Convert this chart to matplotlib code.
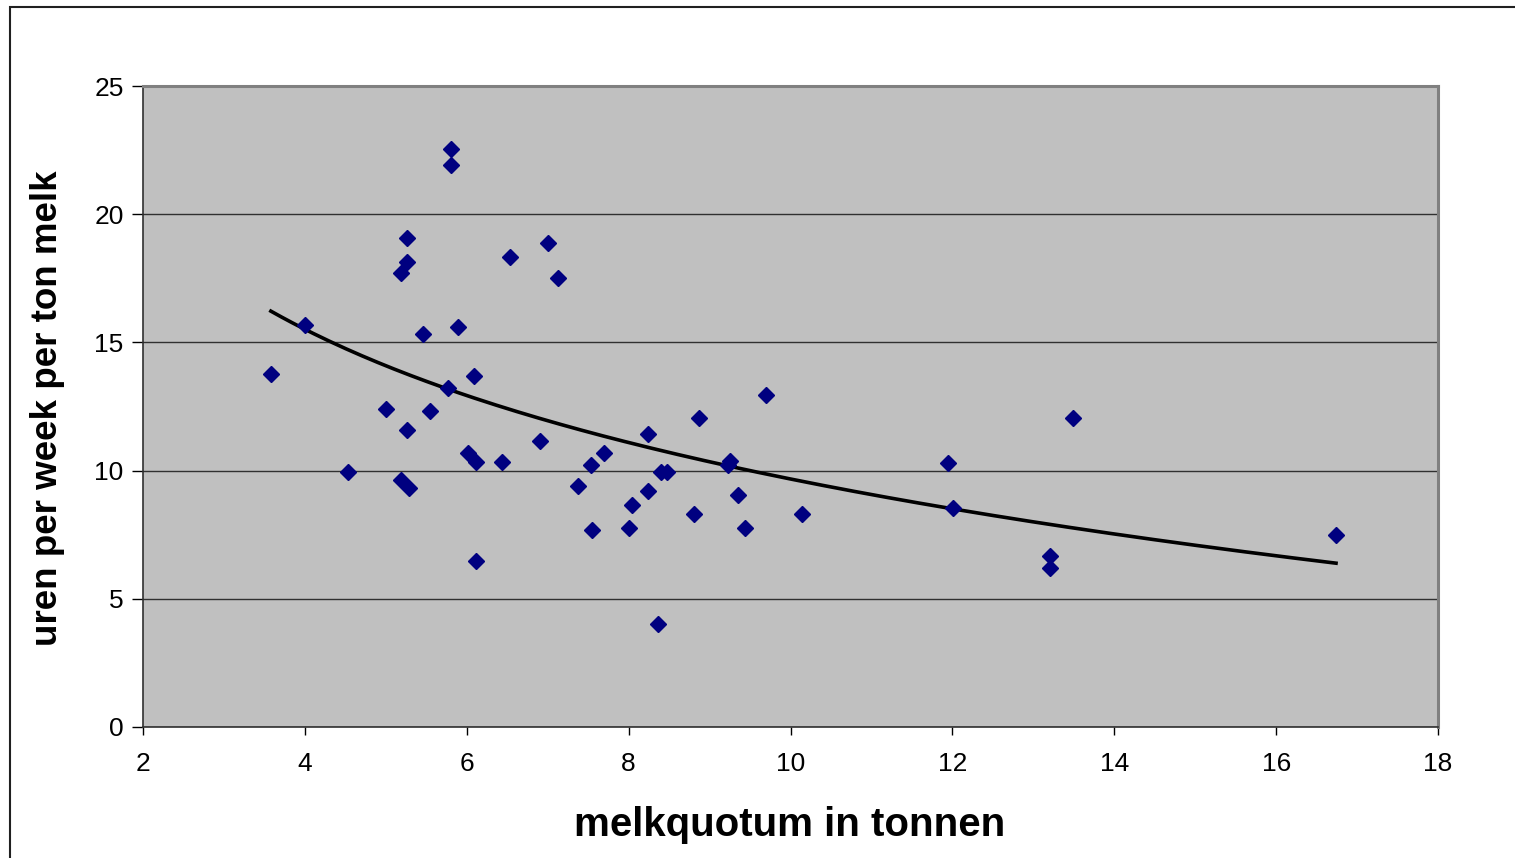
import numpy as np
import matplotlib
matplotlib.use("Agg")
import matplotlib.pyplot as plt
from matplotlib.patches import Rectangle

plt.rcParams['font.family'] = ['Liberation Sans', 'DejaVu Sans']

quotum = [3.58, 4.00, 4.53, 5.00, 5.19, 5.26, 5.26, 5.26, 5.19, 5.29,
          5.46, 5.55, 5.81, 5.81, 5.89, 5.77, 6.09, 6.02, 6.11, 6.11,
          6.44, 6.53, 6.90, 7.00, 7.13, 7.37, 7.54, 7.55, 7.70, 8.00,
          8.04, 8.24, 8.24, 8.36, 8.40, 8.47, 8.81, 8.87, 9.25, 9.23,
          9.35, 9.44, 9.70, 10.14, 11.95, 12.01, 13.21, 13.21, 13.49, 16.74]
uren = [13.77, 15.68, 9.95, 12.40, 17.71, 19.07, 18.14, 11.58, 9.63, 9.32,
        15.33, 12.32, 22.54, 21.92, 15.60, 13.22, 13.69, 10.69, 10.34, 6.47,
        10.34, 18.33, 11.15, 18.88, 17.51, 9.40, 10.22, 7.68, 10.69, 7.76,
        8.66, 11.43, 9.20, 4.02, 9.95, 9.95, 8.31, 12.05, 10.37, 10.22,
        9.05, 7.76, 12.95, 8.31, 10.30, 8.54, 6.67, 6.20, 12.05, 7.49]

x_ticks = [2, 4, 6, 8, 10, 12, 14, 16, 18]
y_ticks = [0, 5, 10, 15, 20, 25]

fig = plt.figure(figsize=(15.15, 8.58), dpi=100)
fig.patch.set_facecolor('white')
fig.patches.append(Rectangle((10/1515, -0.05), 1.2, (858-7)/858 + 0.05,
                             transform=fig.transFigure, fill=False,
                             edgecolor='#202020', linewidth=1.5))

ax = fig.add_axes([143/1515, 1-727/858, (1438-143)/1515, (727-86)/858])
ax.set_facecolor('#c0c0c0')
ax.set_xlim(2, 18)
ax.set_ylim(0, 25)
ax.set_xticks(x_ticks)
ax.set_yticks(y_ticks)
ax.yaxis.grid(True, color='#303030', linewidth=1.0)
ax.set_axisbelow(True)

# logarithmic trendline fitted to the data
xs = np.array(quotum)
ys = np.array(uren)
b, a = np.polyfit(np.log(xs), ys, 1)
xt = np.linspace(xs.min(), xs.max(), 200)
ax.plot(xt, a + b*np.log(xt), color='black', linewidth=2.6, zorder=3)

ax.plot(quotum, uren, linestyle='none', marker='D', markersize=8.2,
        markerfacecolor='#000080', markeredgecolor='#000080', zorder=4)

for s in ['top', 'right']:
    ax.spines[s].set_color('#808080')
    ax.spines[s].set_linewidth(2.2)
for s in ['left', 'bottom']:
    ax.spines[s].set_color('#303030')
    ax.spines[s].set_linewidth(1.2)

ax.tick_params(axis='both', direction='out', labelsize=19, colors='#000000', width=1.0)
ax.tick_params(axis='x', length=6, pad=12)
ax.tick_params(axis='y', length=8, pad=6)

fig.text(790/1515, 1-825/858, 'melkquotum in tonnen', fontsize=29, fontweight='bold',
         ha='center', va='center')
fig.text(48/1515, 1-408/858, 'uren per week per ton melk', fontsize=26.5, fontweight='bold',
         ha='center', va='center', rotation=90)

fig.savefig('out.png', dpi=100)
